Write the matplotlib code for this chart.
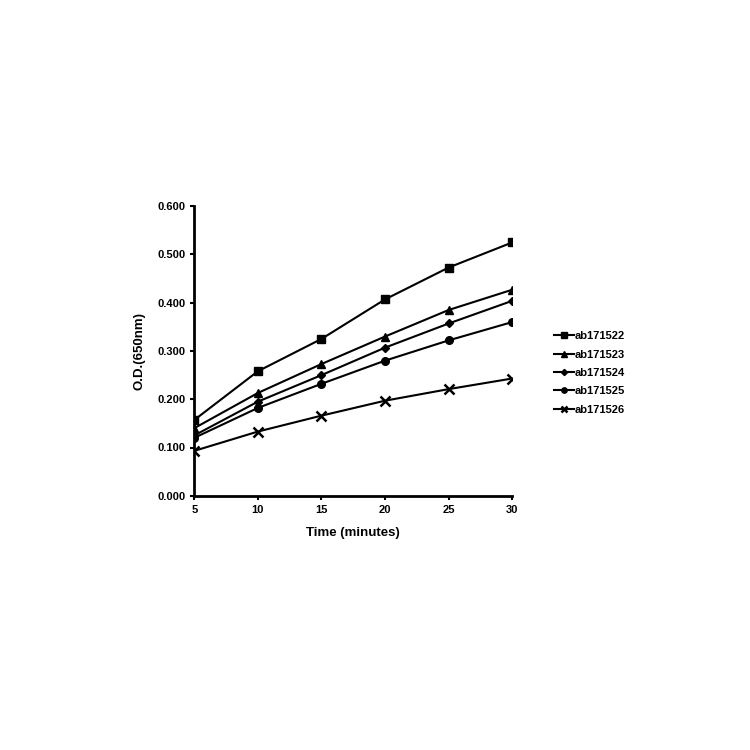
import matplotlib
matplotlib.use("Agg")
import matplotlib.pyplot as plt

time_min = [5, 10, 15, 20, 25, 30]
labels = ["ab171522", "ab171523", "ab171524", "ab171525", "ab171526"]
od_522 = [0.157, 0.258, 0.325, 0.407, 0.473, 0.525]
od_523 = [0.140, 0.213, 0.273, 0.330, 0.385, 0.427]
od_524 = [0.125, 0.195, 0.250, 0.307, 0.357, 0.404]
od_525 = [0.120, 0.182, 0.232, 0.280, 0.322, 0.360]
od_526 = [0.093, 0.133, 0.166, 0.197, 0.221, 0.243]
yticks = [0.0, 0.1, 0.2, 0.3, 0.4, 0.5, 0.6]

plt.rcParams['font.family'] = ['Liberation Sans', 'DejaVu Sans']
plt.rcParams['font.weight'] = 'bold'

fig = plt.figure(figsize=(7.5, 7.5), dpi=100)
ax = fig.add_axes([0.259, 0.339, 0.424, 0.386])

series = [od_522, od_523, od_524, od_525, od_526]
markers = ['s', '^', 'D', 'o', 'x']
sizes = [5.5, 6, 4.5, 5.5, 7]
for vals, lab, m, ms in zip(series, labels, markers, sizes):
    ax.plot(time_min, vals, color='black', lw=1.5, marker=m, ms=ms,
            mew=1.8 if m == 'x' else 1, label=lab)

ax.set_xlim(5, 30)
ax.set_ylim(0, 0.6)
ax.set_xticks(time_min)
ax.set_yticks(yticks)
ax.set_yticklabels([f"{v:.3f}" for v in yticks])
for s in ['top', 'right']:
    ax.spines[s].set_visible(False)
for s in ['left', 'bottom']:
    ax.spines[s].set_linewidth(2)
ax.tick_params(axis='both', labelsize=8, width=1.5, length=3, direction='out')
ax.set_xlabel("Time (minutes)", fontsize=9.5, fontweight='bold', labelpad=9)
ax.set_ylabel("O.D.(650nm)", fontsize=9.5, fontweight='bold', labelpad=8)

leg = ax.legend(loc='center left', bbox_to_anchor=(1.1, 0.424), frameon=False,
                fontsize=8, handlelength=1.8, handletextpad=0.05,
                labelspacing=0.75, markerscale=0.7)

fig.savefig("out.png", dpi=100)
